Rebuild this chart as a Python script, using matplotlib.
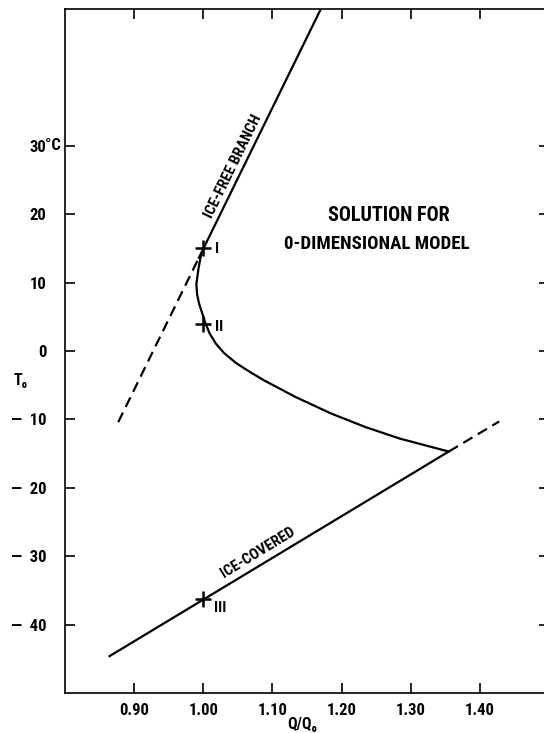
import matplotlib
matplotlib.use("Agg")
import matplotlib.pyplot as plt
from matplotlib import font_manager as fm

# pick a condensed bold sans if one is installed
pref = ['Liberation Sans Narrow', 'Roboto Condensed', 'DejaVu Sans Condensed', 'Open Sans Condensed']
chosen = None
for want in pref:
    for f in fm.fontManager.ttflist:
        nm = f.name
        if (nm == want) or (want.replace(' ', '') in f.fname.replace(' ', '').replace('-', '')):
            chosen = (nm, f.stretch)
            break
    if chosen:
        break
if chosen is None:
    chosen = ('Liberation Sans', 'normal')
FAM = [chosen[0], 'DejaVu Sans']
plt.rcParams['font.family'] = FAM
plt.rcParams['font.stretch'] = chosen[1]
plt.rcParams['font.weight'] = 'bold'

# ---- data ----
free_dash_q = [0.877, 0.993]
free_dash_T = [-10.4, 13.5]
free_solid_q = [0.993, 1.170]
free_solid_T = [13.5, 50.0]

middle_q = [0.997, 0.993, 0.990, 0.991, 0.994, 1.003, 1.009, 1.018, 1.030, 1.048, 1.068, 1.088,
            1.133, 1.184, 1.234, 1.284, 1.355]
middle_T = [14.2, 12.0, 9.8, 8.3, 6.9, 4.1, 2.6, 1.1, -0.3, -1.8, -3.1, -4.3,
            -6.7, -9.1, -11.1, -12.8, -14.7]

covered_solid_q = [0.863, 1.355]
covered_solid_T = [-44.7, -14.7]
covered_dash_q = [1.355, 1.428]
covered_dash_T = [-14.7, -10.3]

point_q = [1.00, 1.00, 1.00]
point_T = [15.0, 4.0, -36.3]
point_labels = ['I', 'II', 'III']

x_ticks = [0.90, 1.00, 1.10, 1.20, 1.30, 1.40]
x_ticklabels = ['0.90', '1.00', '1.10', '1.20', '1.30', '1.40']
y_ticks = [30, 20, 10, 0, -10, -20, -30, -40]
y_ticklabels = ['30', '20', '10', '0', '\u2014  10', '\u2014  20', '\u2014  30', '\u2014  40']

W, H = 544, 733
fig = plt.figure(figsize=(W / 100, H / 100), dpi=100)
left, right, top, bottom = 65, 549, 9, 693
ax = fig.add_axes([left / W, 1 - bottom / H, (right - left) / W, (bottom - top) / H])
ax.set_xlim(0.80, 1.50)
ax.set_ylim(-50, 50)

lw = 1.6
dash = (0, (4.8, 2.8))
ax.plot(free_solid_q, free_solid_T, color='black', lw=lw, solid_capstyle='butt')
ax.plot(free_dash_q, free_dash_T, color='black', lw=lw, linestyle=dash)
ax.plot(middle_q, middle_T, color='black', lw=lw, solid_joinstyle='round')
ax.plot(covered_solid_q, covered_solid_T, color='black', lw=lw, solid_capstyle='butt')
ax.plot(covered_dash_q, covered_dash_T, color='black', lw=lw, linestyle=dash)
ax.plot(point_q, point_T, linestyle='none', marker='+', markersize=11, mew=1.8, color='black')

lab_fs = 12
offsets = {'I': (12, -1), 'II': (12, -3), 'III': (11, -9)}
for q, t, s in zip(point_q, point_T, point_labels):
    ax.annotate(s, (q, t), xytext=offsets[s], textcoords='offset pixels',
                ha='left', va='center', fontsize=11, fontweight='bold')

for side in ['top', 'bottom', 'left', 'right']:
    ax.spines[side].set_linewidth(1.2)
ax.set_xticks(x_ticks)
ax.set_xticklabels(x_ticklabels)
ax.set_yticks(y_ticks)
ax.set_yticklabels(y_ticklabels)
ax.tick_params(axis='both', direction='in', length=7, width=1.2, top=True, right=True,
               labelsize=lab_fs)
ax.tick_params(axis='x', pad=7.5)
ax.tick_params(axis='y', pad=13.5)
for lab in ax.get_xticklabels() + ax.get_yticklabels():
    lab.set_fontweight('bold')

# degree C suffix on the 30 label
ax.annotate('\u00b0C', xy=(0, 30), xycoords=('axes fraction', 'data'), xytext=(-19.5, 0),
            textcoords='offset pixels', ha='left', va='center', fontsize=lab_fs, fontweight='bold')

fig.text(21 / W, 1 - 380 / H, 'T\u2080', ha='center', va='center', fontsize=11.5, fontweight='bold')
fig.text(302 / W, 1 - 724 / H, 'Q/Q\u2080', ha='center', va='center', fontsize=11.5, fontweight='bold')

ax.text(1.053, 26.6, 'ICE-FREE BRANCH', rotation=64, rotation_mode='anchor',
        ha='center', va='bottom', fontsize=11, fontweight='bold')
ax.text(1.085, -30.3, 'ICE-COVERED', rotation=31.5, rotation_mode='anchor',
        ha='center', va='bottom', fontsize=11, fontweight='bold')
ax.text(1.268, 19.8, 'SOLUTION FOR', ha='center', va='center',
        fontsize=14.5, fontweight='bold')
ax.text(1.251, 15.6, '0-DIMENSIONAL MODEL', ha='center', va='center',
        fontsize=13.6, fontweight='bold')

fig.savefig('out.png', dpi=100)
